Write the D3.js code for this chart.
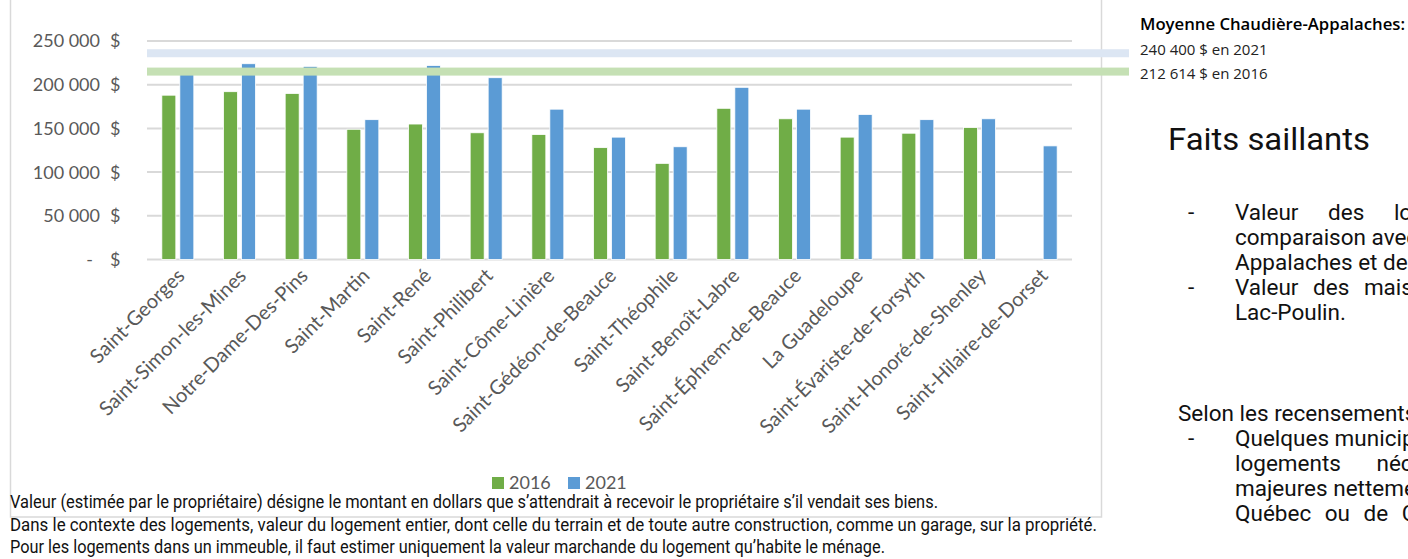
<!DOCTYPE html>
<html>
<head>
<meta charset="utf-8">
<title>Valeur des logements</title>
<script src="https://d3js.org/d3.v7.min.js"></script>
<style>
  body { margin: 0; background: #fff; }
  svg { display: block; }
</style>
</head>
<body>
<div id="chart"></div>
<script>
// data
var categories = ["Saint-Georges", "Saint-Simon-les-Mines", "Notre-Dame-Des-Pins", "Saint-Martin", "Saint-René",
  "Saint-Philibert", "Saint-Côme-Linière", "Saint-Gédéon-de-Beauce", "Saint-Théophile", "Saint-Benoît-Labre",
  "Saint-Éphrem-de-Beauce", "La Guadeloupe", "Saint-Évariste-de-Forsyth", "Saint-Honoré-de-Shenley", "Saint-Hilaire-de-Dorset"]
var years = ["2016", "2021"]
var values2016 = [188000, 192000, 190000, 149000, 155000, 145000, 143000, 128000, 110000, 173000, 161000, 140000, 144500, 151000, null]
var values2021 = [212000, 224000, 221000, 160000, 222000, 208000, 172000, 140000, 129000, 197000, 172000, 166000, 160000, 161000, 130000]
var yTicks = [0, 50000, 100000, 150000, 200000, 250000]
// regional averages: labels, and where the bands sit on the picture
var avgLabels = ["240 400 $ en 2021", "212 614 $ en 2016"]
var avgBandLevels = [236000, 215000]
var footnotes = [
  "Valeur (estimée par le propriétaire) désigne le montant en dollars que s’attendrait à recevoir le propriétaire s’il vendait ses biens.",
  "Dans le contexte des logements, valeur du logement entier, dont celle du terrain et de toute autre construction, comme un garage, sur la propriété.",
  "Pour les logements dans un immeuble, il faut estimer uniquement la valeur marchande du logement qu’habite le ménage."
]
var footWidths = [928, 1087, 875]

var width = 1408, height = 559
var colors = {"2016": "#70ad47", "2021": "#5b9bd5"}
var bandColors = ["#dce6f3", "#c5e0b4"]
var labelFont = "Lato, 'Open Sans', sans-serif"
var dinFont = "Roboto, 'DejaVu Sans', sans-serif"
var narrowFont = "'Liberation Sans Narrow', Roboto, sans-serif"

var svg = d3.select("#chart").append("svg")
  .attr("width", width)
  .attr("height", height)

// chart frame
svg.append("rect")
  .attr("x", 10.5).attr("y", -5)
  .attr("width", 1091).attr("height", 522)
  .style("fill", "none")
  .style("stroke", "#d9d9d9")
  .style("stroke-width", 1.5)

var x0 = d3.scaleBand().domain(categories).range([147, 1072])
var x1 = d3.scaleBand().domain(years).range([-16, 16]).paddingInner(0.222)
var y = d3.scaleLinear().domain([0, 250000]).range([259.5, 41])

// gridlines
svg.append("g").selectAll("line")
  .data(yTicks)
  .enter().append("line")
    .attr("x1", 147).attr("x2", 1072)
    .attr("y1", function(d) { return y(d) })
    .attr("y2", function(d) { return y(d) })
    .style("stroke", "#d9d9d9")
    .style("stroke-width", 2)

// y labels, accounting style
var yl = svg.append("g").style("font-family", labelFont).style("font-size", "18px").style("fill", "#595959")
yl.selectAll(".num")
  .data(yTicks)
  .enter().append("text")
    .attr("x", function(d) { return d == 0 ? 93 : 100 })
    .attr("y", function(d) { return y(d) })
    .attr("dy", "0.36em")
    .attr("text-anchor", "end")
    .text(function(d) { return d == 0 ? "-" : d3.format(",")(d).replace(/,/g, " ") })
yl.selectAll(".cur")
  .data(yTicks)
  .enter().append("text")
    .attr("x", 110)
    .attr("y", function(d) { return y(d) })
    .attr("dy", "0.36em")
    .text("$")

// bars
var rows = categories.map(function(c, i) {
  return {cat: c, vals: [{year: "2016", v: values2016[i]}, {year: "2021", v: values2021[i]}]}
})
var groups = svg.append("g").selectAll("g")
  .data(rows)
  .enter().append("g")
    .attr("transform", function(d) { return "translate(" + (x0(d.cat) + x0.bandwidth() / 2) + ",0)" })
groups.selectAll("rect")
  .data(function(d) { return d.vals.filter(function(e) { return e.v != null }) })
  .enter().append("rect")
    .attr("x", function(d) { return x1(d.year) })
    .attr("width", x1.bandwidth())
    .attr("y", function(d) { return y(d.v) })
    .attr("height", function(d) { return y(0) - y(d.v) })
    .style("fill", function(d) { return colors[d.year] })
    .style("stroke", "#ffffff")
    .style("stroke-width", 0.8)

// average bands, drawn over the bars
svg.append("g").selectAll("rect")
  .data(avgBandLevels)
  .enter().append("rect")
    .attr("x", 147)
    .attr("width", 1129 - 147)
    .attr("y", function(d) { return y(d) - 4 })
    .attr("height", 8)
    .style("fill", function(d, i) { return bandColors[i] })

// x labels
svg.append("g").selectAll("text")
  .data(categories)
  .enter().append("text")
    .attr("transform", function(d) {
      return "translate(" + (x0(d) + x0.bandwidth() / 2 + 8) + ",277) rotate(-45)"
    })
    .attr("text-anchor", "end")
    .style("font-family", labelFont)
    .style("font-size", "20px")
    .style("fill", "#595959")
    .text(function(d) { return d })

// legend
var leg = svg.append("g").selectAll("g")
  .data(years)
  .enter().append("g")
    .attr("transform", function(d, i) { return "translate(" + (492 + i * 76) + ",477)" })
leg.append("rect")
  .attr("width", 12).attr("height", 12)
  .style("fill", function(d) { return colors[d] })
leg.append("text")
  .attr("x", 17).attr("y", 11.5)
  .style("font-family", labelFont)
  .style("font-size", "18px")
  .style("fill", "#595959")
  .text(function(d) { return d })

// footnotes
svg.append("g").selectAll("text")
  .data(footnotes)
  .enter().append("text")
    .attr("x", 10)
    .attr("y", function(d, i) { return 508 + i * 22.5 })
    .attr("textLength", function(d, i) { return footWidths[i] })
    .attr("lengthAdjust", "spacingAndGlyphs")
    .style("font-family", narrowFont)
    .style("font-size", "18px")
    .style("fill", "#111")
    .text(function(d) { return d })

// averages block, right of the frame
svg.append("text")
  .attr("x", 1140).attr("y", 30)
  .attr("textLength", 265).attr("lengthAdjust", "spacingAndGlyphs")
  .style("font-family", "'Open Sans', sans-serif")
  .style("font-weight", 600)
  .style("font-size", "15.5px")
  .style("fill", "#000")
  .text("Moyenne Chaudière-Appalaches:")
svg.append("g").selectAll("text")
  .data(avgLabels)
  .enter().append("text")
    .attr("x", 1140)
    .attr("y", function(d, i) { return 55 + i * 24 })
    .style("font-family", "'Open Sans', sans-serif")
    .style("font-size", "15px")
    .style("fill", "#222")
    .text(function(d) { return d })

// highlights text
svg.append("text")
  .attr("x", 1168).attr("y", 150)
  .attr("textLength", 202).attr("lengthAdjust", "spacingAndGlyphs")
  .style("font-family", dinFont)
  .style("font-weight", 400)
  .style("font-size", "31px")
  .style("fill", "#111")
  .text("Faits saillants")

var side = [
  {x: 1235, y: 220, t: "Valeur des logements", ws: 24, dash: true},
  {x: 1235, y: 245, t: "comparaison avec la", ws: 0},
  {x: 1235, y: 270, t: "Appalaches et de la", ws: 0},
  {x: 1235, y: 295, t: "Valeur des maisons", ws: 9, dash: true},
  {x: 1235, y: 320, t: "Lac-Poulin.", ws: 0},
  {x: 1178, y: 421, t: "Selon les recensements", ws: 0},
  {x: 1235, y: 446, t: "Quelques municipalités", ws: 0, dash: true},
  {x: 1235, y: 471, t: "logements nécessitant", ws: 30},
  {x: 1235, y: 496, t: "majeures nettement", ws: 0},
  {x: 1235, y: 521, t: "Québec ou de Chaudière", ws: 8}
]
var sg = svg.append("g").style("font-family", dinFont).style("font-size", "22.5px").style("fill", "#111")
sg.selectAll(".line")
  .data(side)
  .enter().append("text")
    .attr("x", function(d) { return d.x })
    .attr("y", function(d) { return d.y })
    .attr("word-spacing", function(d) { return d.ws })
    .text(function(d) { return d.t })
sg.selectAll(".dash")
  .data(side.filter(function(d) { return d.dash }))
  .enter().append("text")
    .attr("x", 1188)
    .attr("y", function(d) { return d.y })
    .text("-")
</script>
</body>
</html>
